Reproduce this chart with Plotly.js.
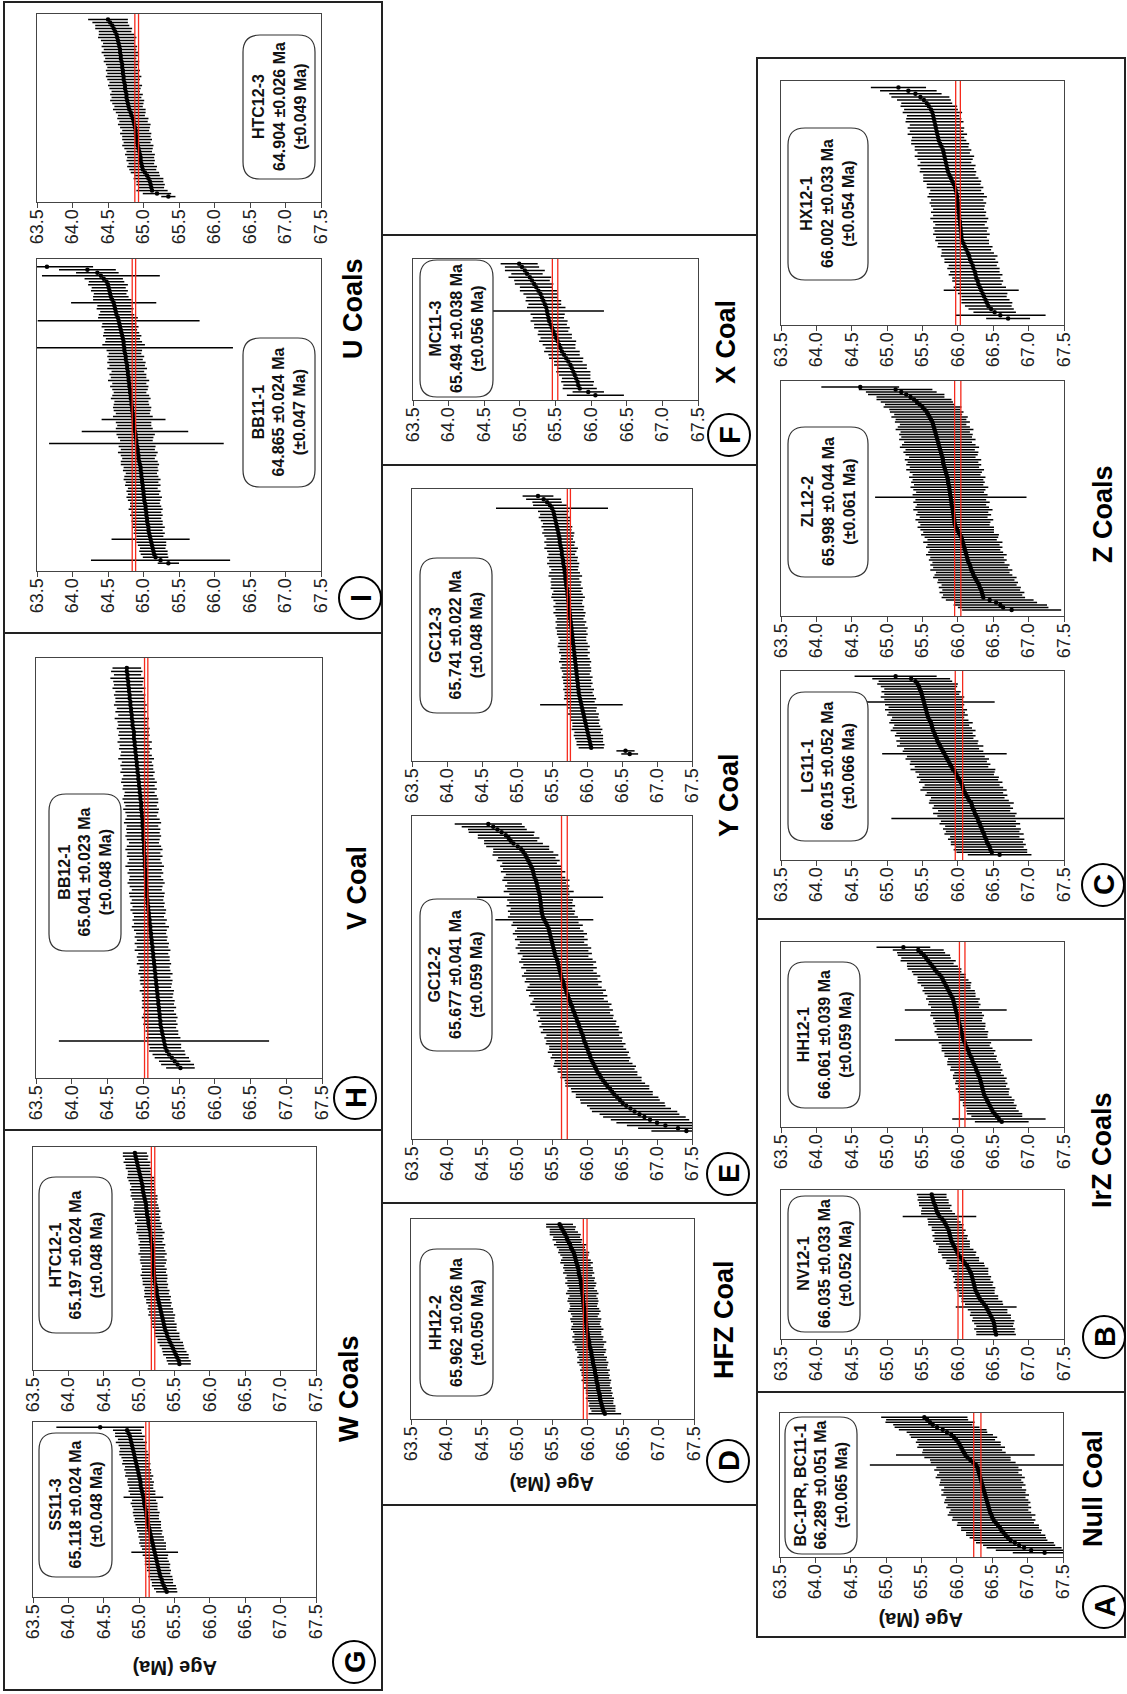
<!DOCTYPE html>
<html>
<head>
<meta charset="utf-8">
<script src="https://cdn.plot.ly/plotly-3.0.1.min.js"></script>
<style>
html,body{margin:0;padding:0;background:#fff;overflow:hidden;}
#chart{width:1127px;height:1694px;}
</style>
</head>
<body>
<div id="chart"></div>
<script>
// ---------------- DATA ----------------
const ageTicks = [63.5, 64.0, 64.5, 65.0, 65.5, 66.0, 66.5, 67.0, 67.5];
const ageTickText = ['63.5','64.0','64.5','65.0','65.5','66.0','66.5','67.0','67.5'];

const sampleNames = ['HTC12-3','BB11-1','BB12-1','HTC12-1','SS11-3','MC11-3','GC12-3','GC12-2','HH12-2','HX12-1','ZL12-2','LG11-1','HH12-1','NV12-1','BC-1PR, BC11-1'];
const weightedMeans = [64.904, 64.865, 65.041, 65.197, 65.118, 65.494, 65.741, 65.677, 65.962, 66.002, 65.998, 66.015, 66.061, 66.035, 66.289];
const meanErrors = [0.026, 0.024, 0.023, 0.024, 0.024, 0.038, 0.022, 0.041, 0.026, 0.033, 0.044, 0.052, 0.039, 0.033, 0.051];
const totalErrors = [0.049, 0.047, 0.048, 0.048, 0.048, 0.056, 0.048, 0.059, 0.050, 0.054, 0.061, 0.066, 0.059, 0.052, 0.065];

const coalUnits = ['U Coals','V Coal','W Coals','X Coal','Y Coal','HFZ Coal','Z Coals','IrZ Coals','Null Coal'];
const panelLetters = ['I','H','G','F','E','D','C','B','A'];
const axisTitle = 'Age (Ma)';

const agesHTC12_3 = [64.50,64.53,64.56,64.58,64.60,64.62,64.63,64.64,64.65,64.66,
64.67,64.67,64.68,64.68,64.69,64.70,64.70,64.71,64.71,64.72,
64.72,64.73,64.74,64.74,64.75,64.76,64.76,64.77,64.78,64.79,
64.80,64.82,64.83,64.85,64.86,64.87,64.88,64.89,64.89,64.90,
64.91,64.91,64.92,64.93,64.94,64.95,64.96,64.96,64.97,64.98,
64.99,65.02,65.05,65.07,65.09,65.10,65.11,65.12,65.19,65.35];
const errsHTC12_3 = [0.28,0.25,0.24,0.26,0.23,0.25,0.27,0.24,0.22,0.25,
0.23,0.26,0.24,0.22,0.25,0.23,0.21,0.24,0.22,0.25,
0.23,0.21,0.24,0.22,0.20,0.23,0.21,0.24,0.22,0.20,
0.23,0.21,0.19,0.22,0.20,0.23,0.21,0.19,0.22,0.20,
0.21,0.19,0.22,0.20,0.18,0.21,0.19,0.20,0.18,0.21,
0.19,0.20,0.18,0.21,0.19,0.20,0.18,0.22,0.20,0.10];

const agesBB11_1 = [63.64,64.21,64.35,64.40,64.44,64.48,64.50,64.51,64.52,64.53,
64.54,64.56,64.58,64.59,64.60,64.61,64.62,64.64,64.65,64.66,
64.67,64.68,64.69,64.70,64.71,64.72,64.72,64.73,64.73,64.74,
64.75,64.75,64.76,64.77,64.77,64.78,64.78,64.79,64.79,64.80,
64.80,64.81,64.81,64.82,64.82,64.83,64.83,64.84,64.84,64.85,
64.85,64.86,64.86,64.87,64.87,64.88,64.89,64.89,64.90,64.90,
64.91,64.92,64.92,64.93,64.93,64.94,64.95,64.96,64.96,64.97,
64.97,64.98,64.98,64.99,64.99,65.00,65.00,65.01,65.01,65.02,
65.03,65.03,65.04,65.04,65.05,65.05,65.06,65.07,65.07,65.08,
65.09,65.10,65.11,65.12,65.13,65.14,65.15,65.17,65.24,65.35];
const errsBB11_1 = [0.65,0.40,0.30,0.83,0.27,0.25,0.28,0.24,0.26,0.23,
0.25,0.27,0.60,0.24,0.26,0.22,0.25,0.28,1.14,0.24,
0.26,0.23,0.25,0.27,0.24,0.26,0.30,1.53,0.25,0.23,
0.26,0.24,0.27,0.25,0.28,0.23,0.26,0.25,0.29,0.24,
0.27,0.25,0.23,0.26,0.28,0.24,0.25,0.27,0.26,0.24,
0.28,0.45,0.25,0.24,0.26,0.75,0.27,0.25,0.23,1.23,
0.26,0.24,0.28,0.25,0.23,0.26,0.27,0.24,0.25,0.22,
0.24,0.26,0.23,0.25,0.21,0.24,0.22,0.25,0.23,0.21,
0.22,0.24,0.21,0.23,0.20,0.22,0.21,0.23,0.20,0.22,
0.19,0.55,0.21,0.20,0.18,0.20,0.19,0.18,0.98,0.15];

const agesBB12_1 = [64.77,64.77,64.78,64.78,64.79,64.79,64.80,64.80,64.81,64.81,
64.82,64.82,64.83,64.83,64.84,64.84,64.85,64.85,64.86,64.87,
64.87,64.87,64.88,64.88,64.89,64.89,64.90,64.90,64.91,64.91,
64.92,64.92,64.93,64.93,64.94,64.94,64.95,64.95,64.96,64.96,
64.97,64.97,64.97,64.98,64.98,64.99,64.99,64.99,65.00,65.00,
65.00,65.00,65.01,65.01,65.01,65.01,65.02,65.02,65.02,65.02,
65.03,65.03,65.03,65.04,65.04,65.04,65.05,65.05,65.05,65.06,
65.06,65.07,65.07,65.08,65.08,65.09,65.09,65.10,65.10,65.11,
65.11,65.12,65.12,65.13,65.13,65.14,65.14,65.15,65.15,65.16,
65.16,65.17,65.17,65.18,65.18,65.19,65.19,65.20,65.20,65.21,
65.21,65.22,65.22,65.23,65.23,65.24,65.24,65.25,65.26,65.27,
65.28,65.29,65.30,65.31,65.33,65.36,65.40,65.44,65.48,65.52];
const errsBB12_1 = [0.20,0.22,0.19,0.24,0.21,0.20,0.23,0.19,0.22,0.20,
0.21,0.23,0.20,0.22,0.19,0.24,0.21,0.20,0.23,0.21,
0.22,0.20,0.24,0.21,0.23,0.20,0.22,0.25,0.21,0.23,
0.22,0.24,0.21,0.23,0.25,0.22,0.24,0.21,0.23,0.25,
0.24,0.22,0.25,0.23,0.21,0.24,0.26,0.22,0.24,0.23,
0.25,0.23,0.21,0.24,0.26,0.23,0.25,0.22,0.24,0.27,
0.23,0.25,0.22,0.24,0.26,0.23,0.21,0.25,0.24,0.22,
0.24,0.22,0.25,0.23,0.21,0.24,0.22,0.26,0.23,0.21,
0.23,0.21,0.24,0.22,0.25,0.21,0.23,0.22,0.24,0.21,
0.22,0.24,0.21,0.23,0.22,0.20,0.24,0.22,0.21,0.23,
0.22,0.24,0.21,0.23,0.25,0.22,0.24,0.21,0.23,0.22,
0.24,1.47,0.23,0.22,0.25,0.23,0.24,0.22,0.23,0.20];

const agesHTC12_1 = [64.94,64.95,64.96,64.97,64.98,64.99,65.00,65.01,65.02,65.03,
65.04,65.05,65.05,65.06,65.07,65.08,65.09,65.10,65.10,65.11,
65.11,65.12,65.13,65.13,65.14,65.15,65.16,65.16,65.17,65.17,
65.18,65.18,65.19,65.19,65.19,65.20,65.20,65.20,65.21,65.21,
65.21,65.22,65.22,65.23,65.24,65.25,65.25,65.26,65.27,65.28,
65.29,65.30,65.31,65.32,65.33,65.34,65.35,65.36,65.37,65.39,
65.40,65.42,65.44,65.46,65.48,65.50,65.52,65.54,65.56,65.57];
const errsHTC12_1 = [0.17,0.18,0.16,0.19,0.17,0.18,0.16,0.17,0.19,0.18,
0.17,0.16,0.18,0.17,0.19,0.18,0.16,0.17,0.18,0.19,
0.17,0.18,0.16,0.19,0.17,0.18,0.20,0.17,0.18,0.16,
0.19,0.17,0.18,0.20,0.17,0.19,0.18,0.16,0.18,0.17,
0.19,0.18,0.17,0.18,0.16,0.18,0.17,0.19,0.17,0.18,
0.16,0.18,0.17,0.19,0.17,0.16,0.18,0.17,0.16,0.18,
0.17,0.16,0.18,0.17,0.16,0.17,0.18,0.16,0.17,0.16];

const agesSS11_3 = [64.45,64.83,64.85,64.87,64.88,64.89,64.90,64.91,64.92,64.93,64.94,
64.95,64.96,64.97,64.98,64.99,65.00,65.01,65.02,65.02,65.03,65.04,
65.05,65.06,65.07,65.07,65.08,65.09,65.10,65.10,65.11,65.12,65.13,
65.14,65.15,65.16,65.17,65.18,65.19,65.20,65.21,65.22,65.23,65.24,
65.25,65.26,65.27,65.28,65.29,65.30,65.32,65.33,65.35,65.37,65.39];
const errsSS11_3 = [0.62,0.20,0.19,0.21,0.18,0.22,0.19,0.18,0.20,0.21,
0.19,0.18,0.20,0.17,0.19,0.18,0.20,0.17,0.19,0.18,
0.17,0.19,0.18,0.28,0.17,0.19,0.18,0.17,0.19,0.18,
0.17,0.19,0.18,0.17,0.18,0.16,0.18,0.17,0.19,0.18,
0.17,0.33,0.18,0.16,0.17,0.18,0.16,0.17,0.15,0.17,
0.16,0.15,0.17,0.16,0.15];

const agesMC11_3 = [64.99,65.03,65.07,65.10,65.14,65.17,65.20,65.23,65.26,65.29,
65.31,65.33,65.35,65.37,65.38,65.39,65.40,65.41,65.43,65.45,
65.47,65.49,65.51,65.53,65.55,65.57,65.59,65.62,65.65,65.68,
65.71,65.73,65.75,65.77,65.79,65.81,65.82,65.84,65.96,66.06];
const errsMC11_3 = [0.26,0.24,0.28,0.22,0.30,0.25,0.27,0.23,0.26,0.24,
0.22,0.25,0.23,0.27,0.80,0.24,0.22,0.26,0.23,0.25,
0.21,0.24,0.22,0.26,0.23,0.21,0.25,0.22,0.24,0.20,
0.23,0.21,0.24,0.22,0.20,0.23,0.21,0.24,0.22,0.40];

const agesGC12_3 = [65.30,65.38,65.43,65.47,65.50,65.52,65.53,65.54,65.55,65.56,
65.57,65.58,65.59,65.60,65.61,65.61,65.62,65.63,65.64,65.64,
65.65,65.66,65.66,65.67,65.68,65.68,65.69,65.69,65.70,65.70,
65.71,65.72,65.72,65.73,65.73,65.74,65.74,65.75,65.75,65.76,
65.76,65.77,65.77,65.78,65.78,65.79,65.79,65.80,65.80,65.81,
65.81,65.82,65.82,65.83,65.83,65.84,65.84,65.85,65.85,65.86,
65.86,65.87,65.87,65.88,65.88,65.89,65.90,65.91,65.92,65.93,
65.94,65.95,65.96,65.97,65.98,65.99,66.00,66.01,66.02,66.03,
66.04,66.05,66.06,66.55,66.61];
const errsGC12_3 = [0.22,0.25,0.21,0.24,0.80,0.22,0.20,0.23,0.21,0.19,
0.22,0.20,0.23,0.21,0.19,0.22,0.20,0.24,0.21,0.19,
0.22,0.20,0.23,0.21,0.19,0.22,0.24,0.20,0.22,0.21,
0.23,0.20,0.22,0.24,0.21,0.19,0.22,0.20,0.23,0.21,
0.19,0.22,0.20,0.23,0.21,0.22,0.20,0.19,0.21,0.23,
0.20,0.22,0.19,0.21,0.23,0.20,0.22,0.21,0.19,0.22,
0.20,0.21,0.19,0.22,0.20,0.21,0.23,0.20,0.59,0.21,
0.19,0.22,0.20,0.21,0.19,0.20,0.22,0.19,0.21,0.20,
0.19,0.20,0.18,0.13,0.12];

const agesGC12_2 = [64.59,64.66,64.72,64.78,64.84,64.88,64.91,64.95,65.01,65.06,
65.09,65.12,65.14,65.16,65.18,65.20,65.22,65.23,65.24,65.25,
65.27,65.28,65.29,65.30,65.31,65.32,65.33,65.33,65.34,65.34,
65.35,65.35,65.36,65.37,65.39,65.41,65.43,65.45,65.46,65.47,
65.48,65.49,65.50,65.51,65.52,65.53,65.54,65.55,65.57,65.58,
65.59,65.60,65.61,65.62,65.63,65.64,65.66,65.67,65.68,65.70,
65.71,65.73,65.74,65.76,65.77,65.79,65.80,65.82,65.83,65.85,
65.86,65.88,65.89,65.91,65.92,65.94,65.95,65.96,65.98,65.99,
66.01,66.02,66.04,66.05,66.07,66.09,66.11,66.13,66.15,66.18,
66.20,66.23,66.26,66.29,66.33,66.36,66.39,66.43,66.47,66.51,
66.56,66.62,66.68,66.75,66.82,66.90,67.00,67.12,67.30,67.42];
const errsGC12_2 = [0.48,0.45,0.42,0.47,0.40,0.44,0.38,0.42,0.45,0.40,
0.43,0.47,0.41,0.45,0.39,0.44,0.42,0.46,0.40,0.44,
0.48,0.42,0.46,0.44,0.50,0.43,0.90,0.47,0.45,0.49,
0.44,0.48,0.46,0.50,0.70,0.47,0.51,0.45,0.49,0.53,
0.48,0.52,0.46,0.50,0.54,0.49,0.53,0.47,0.51,0.55,
0.50,0.54,0.48,0.52,0.56,0.51,0.55,0.49,0.53,0.57,
0.52,0.56,0.50,0.54,0.58,0.53,0.57,0.51,0.55,0.52,
0.56,0.53,0.57,0.54,0.58,0.52,0.56,0.54,0.57,0.53,
0.55,0.58,0.54,0.57,0.53,0.56,0.59,0.55,0.57,0.54,
0.58,0.55,0.57,0.60,0.56,0.58,0.55,0.59,0.57,0.60,
0.56,0.58,0.61,0.57,0.59,0.56,0.58,0.55,0.57,0.50];

const agesHH12_2 = [65.60,65.62,65.64,65.66,65.68,65.70,65.71,65.73,65.75,65.76,
65.78,65.80,65.81,65.82,65.83,65.84,65.85,65.86,65.87,65.87,
65.88,65.89,65.90,65.90,65.91,65.91,65.92,65.92,65.93,65.93,
65.93,65.94,65.94,65.95,65.95,65.96,65.96,65.97,65.97,65.98,
65.98,65.99,65.99,66.00,66.00,66.01,66.02,66.02,66.03,66.04,
66.05,66.05,66.06,66.07,66.07,66.08,66.09,66.10,66.10,66.11,
66.12,66.12,66.13,66.14,66.14,66.15,66.16,66.17,66.17,66.18,
66.19,66.20,66.21,66.22,66.24];
const errsHH12_2 = [0.19,0.21,0.18,0.20,0.22,0.19,0.21,0.18,0.23,0.20,
0.19,0.22,0.20,0.18,0.21,0.23,0.19,0.21,0.20,0.22,
0.18,0.21,0.19,0.22,0.20,0.18,0.21,0.23,0.19,0.21,
0.22,0.20,0.19,0.21,0.23,0.20,0.18,0.22,0.21,0.19,
0.21,0.23,0.20,0.19,0.22,0.20,0.24,0.21,0.19,0.22,
0.20,0.18,0.21,0.19,0.22,0.20,0.18,0.21,0.19,0.20,
0.18,0.21,0.19,0.17,0.20,0.18,0.19,0.17,0.20,0.18,
0.17,0.19,0.18,0.17,0.23];

const agesHX12_1 = [65.16,65.30,65.40,65.47,65.52,65.56,65.59,65.62,65.64,65.65,
65.66,65.67,65.68,65.69,65.70,65.71,65.72,65.73,65.75,65.77,
65.79,65.80,65.81,65.82,65.83,65.84,65.85,65.86,65.88,65.90,
65.92,65.94,65.96,65.97,65.98,65.99,65.99,66.00,66.00,66.01,
66.01,66.02,66.02,66.03,66.03,66.04,66.04,66.05,66.05,66.06,
66.08,66.10,66.12,66.14,66.16,66.17,66.19,66.21,66.22,66.24,
66.25,66.26,66.28,66.29,66.31,66.33,66.35,66.37,66.39,66.41,
66.43,66.47,66.52,66.60,66.71];
const errsHX12_1 = [0.39,0.40,0.37,0.41,0.38,0.36,0.40,0.38,0.42,0.37,
0.39,0.41,0.36,0.40,0.38,0.42,0.37,0.39,0.41,0.38,
0.40,0.37,0.42,0.39,0.36,0.41,0.38,0.40,0.37,0.39,
0.41,0.38,0.40,0.36,0.39,0.42,0.37,0.40,0.38,0.36,
0.39,0.37,0.41,0.38,0.35,0.39,0.37,0.40,0.36,0.38,
0.36,0.39,0.35,0.37,0.40,0.36,0.38,0.34,0.37,0.35,
0.38,0.34,0.36,0.33,0.37,0.53,0.35,0.32,0.34,0.36,
0.33,0.32,0.30,0.64,0.31];

const agesZL12_2 = [64.62,65.12,65.20,65.27,65.33,65.38,65.42,65.46,65.50,65.53,
65.56,65.58,65.60,65.62,65.64,65.65,65.66,65.67,65.68,65.69,
65.70,65.71,65.72,65.73,65.74,65.75,65.76,65.77,65.78,65.79,
65.79,65.80,65.81,65.82,65.83,65.84,65.85,65.86,65.86,65.87,
65.88,65.88,65.89,65.89,65.90,65.90,65.91,65.91,65.92,65.93,
65.93,65.94,65.94,65.95,65.95,65.96,65.97,65.99,66.01,66.03,
66.05,66.06,66.07,66.08,66.09,66.10,66.11,66.12,66.13,66.14,
66.15,66.17,66.18,66.19,66.21,66.22,66.24,66.26,66.28,66.30,
66.31,66.33,66.34,66.35,66.36,66.45,66.54,66.60,66.64,66.76];
const errsZL12_2 = [0.55,0.52,0.50,0.54,0.48,0.53,0.51,0.49,0.55,0.50,
0.52,0.48,0.54,0.50,0.53,0.47,0.51,0.55,0.49,0.52,
0.50,0.54,0.48,0.52,0.56,0.49,0.53,0.51,0.47,0.54,
0.50,0.53,0.49,0.55,0.51,0.48,0.54,0.50,0.52,0.49,
0.55,0.51,0.48,0.53,1.07,0.50,0.54,0.49,0.52,0.56,
0.50,0.53,0.48,0.55,0.51,0.49,0.54,0.52,0.50,0.55,
0.52,0.49,0.56,0.51,0.54,0.50,0.53,0.57,0.52,0.55,
0.51,0.56,0.53,0.58,0.52,0.55,0.59,0.54,0.57,0.53,
0.58,0.55,0.60,0.56,0.59,0.62,0.58,0.66,0.64,0.70];

const agesLG11_1 = [65.12,65.34,65.40,65.43,65.45,65.46,65.48,65.49,65.50,65.51,
65.52,65.53,65.54,65.55,65.56,65.57,65.58,65.60,65.62,65.63,
65.64,65.65,65.67,65.68,65.70,65.71,65.73,65.75,65.77,65.79,
65.81,65.83,65.85,65.87,65.89,65.91,65.93,65.96,65.98,66.00,
66.02,66.04,66.06,66.07,66.08,66.10,66.12,66.14,66.16,66.19,
66.20,66.21,66.23,66.24,66.26,66.28,66.29,66.31,66.32,66.34,
66.35,66.37,66.38,66.40,66.41,66.43,66.45,66.46,66.48,66.59];
const errsLG11_1 = [0.58,0.55,0.52,0.57,0.54,0.50,0.56,0.53,0.59,0.55,
1.00,0.56,0.52,0.58,0.54,0.57,0.51,0.55,0.59,0.53,
0.56,0.60,0.54,0.57,0.52,0.58,0.55,0.61,0.53,0.57,
0.88,0.55,0.59,0.54,0.57,0.52,0.60,0.56,0.53,0.58,
0.55,0.59,0.53,0.57,0.61,0.54,0.58,0.52,0.56,0.60,
0.54,0.57,0.51,0.59,0.55,1.22,0.53,0.57,0.50,0.55,
0.52,0.56,0.49,0.54,0.51,0.53,0.48,0.52,0.50,0.45];

const agesHH12_1 = [65.23,65.44,65.48,65.52,65.55,65.58,65.61,65.64,65.67,65.70,
65.74,65.77,65.79,65.81,65.83,65.85,65.87,65.89,65.91,65.93,
65.94,65.95,65.96,65.97,65.98,65.99,66.00,66.01,66.02,66.03,
66.04,66.05,66.06,66.07,66.08,66.10,66.11,66.13,66.15,66.16,
66.18,66.20,66.21,66.23,66.25,66.26,66.28,66.29,66.31,66.32,
66.33,66.34,66.35,66.36,66.37,66.39,66.41,66.43,66.45,66.47,
66.49,66.52,66.55,66.58,66.62];
const errsHH12_1 = [0.38,0.36,0.34,0.37,0.35,0.39,0.33,0.36,0.38,0.35,
0.37,0.34,0.36,0.38,0.35,0.33,0.37,0.36,0.34,0.38,
0.35,0.37,0.34,0.72,0.36,0.38,0.35,0.33,0.37,0.36,
0.34,0.38,0.36,0.35,0.97,0.37,0.34,0.36,0.38,0.35,
0.37,0.34,0.36,0.38,0.35,0.37,0.33,0.36,0.38,0.35,
0.37,0.34,0.38,0.36,0.35,0.37,0.39,0.36,0.38,0.35,
0.37,0.39,0.36,0.66,0.38];

const agesNV12_1 = [65.63,65.64,65.65,65.66,65.68,65.69,65.70,65.72,65.74,65.78,
65.81,65.83,65.85,65.87,65.88,65.89,65.90,65.91,65.93,65.95,
65.97,65.99,66.01,66.04,66.07,66.10,66.13,66.15,66.17,66.19,
66.20,66.21,66.22,66.23,66.24,66.25,66.27,66.29,66.31,66.34,
66.37,66.40,66.42,66.44,66.46,66.48,66.50,66.51,66.52,66.52,66.53,66.54];
const errsNV12_1 = [0.21,0.20,0.22,0.21,0.23,0.20,0.22,0.24,0.52,0.21,
0.23,0.25,0.22,0.24,0.21,0.25,0.23,0.26,0.24,0.22,
0.25,0.27,0.24,0.26,0.23,0.27,0.25,0.28,0.26,0.24,
0.27,0.25,0.28,0.26,0.29,0.27,0.25,0.28,0.26,0.29,
0.27,0.43,0.28,0.26,0.29,0.27,0.30,0.28,0.26,0.29,0.27,0.28];

const agesBC = [65.54,65.58,65.62,65.66,65.72,65.80,65.86,65.92,65.96,65.99,
66.02,66.04,66.06,66.08,66.10,66.12,66.15,66.19,66.23,66.27,
66.29,66.30,66.31,66.32,66.33,66.34,66.35,66.36,66.37,66.38,
66.39,66.40,66.41,66.42,66.43,66.44,66.45,66.46,66.47,66.49,
66.50,66.52,66.55,66.58,66.61,66.63,66.66,66.69,66.72,66.76,
66.82,66.88,66.95,67.05,67.24];
const errsBC = [0.61,0.58,0.63,0.56,0.60,0.62,0.57,0.59,0.61,0.55,
0.60,0.58,0.62,0.56,0.59,0.98,0.61,0.57,0.60,1.50,
0.58,0.62,0.56,0.60,0.63,0.57,0.59,0.61,0.55,0.60,
0.58,0.62,0.56,0.59,0.61,0.57,0.60,0.55,0.58,0.62,
0.56,0.59,0.54,0.58,0.55,0.57,0.53,0.56,0.54,0.52,
0.55,0.51,0.53,0.50,0.45];

const panelAges = [agesHTC12_3, agesBB11_1, agesBB12_1, agesHTC12_1, agesSS11_3, agesMC11_3, agesGC12_3, agesGC12_2, agesHH12_2, agesHX12_1, agesZL12_2, agesLG11_1, agesHH12_1, agesNV12_1, agesBC];
const panelErrs = [errsHTC12_3, errsBB11_1, errsBB12_1, errsHTC12_1, errsSS11_3, errsMC11_3, errsGC12_3, errsGC12_2, errsHH12_2, errsHX12_1, errsZL12_2, errsLG11_1, errsHH12_1, errsNV12_1, errsBC];

// ---------------- LAYOUT (pixel positions, page 1127 x 1694) ----------------
const W = 1127, H = 1694;
const FONT = 'Liberation Sans, Arial, sans-serif';
const px = x => x / W;
const py = y => 1 - y / H;

const plotBoxes = [
  [37,321,14,202],[37,321,259,571],[36,322,658,1078],[33,316,1147,1370],[33,316,1422,1597],
  [413,698,259,400],[412,692,489,761],[412,692,816,1139],[411,694,1219,1419],
  [781,1064,81,325],[781,1064,381,616],[781,1064,671,860],[781,1064,942,1127],[781,1064,1190,1339],[780,1063,1413,1557]
];
const labelBoxes = [
  [243,315,35,179],[243,315,338,487],[49,121,794,951],[39,112,1177,1333],[39,112,1433,1577],
  [420,493,260,397],[420,492,558,713],[420,492,899,1051],[420,493,1249,1396],
  [788,868,128,280],[788,868,427,577],[788,868,692,841],[788,860,962,1108],[788,860,1196,1332],[785,857,1417,1554]
];
const framesPx = [
  [4,382,2,633],[4,382,633,1130],[4,382,1130,1690],
  [382,757,235,465],[382,757,465,1203],[382,757,1203,1505],
  [757,1125,58,919],[757,1125,919,1392],[757,1125,1392,1637]
];
const titlePos = [[353,309],[357,888],[349,1389],[726,342],[729,795],[724,1320],[1103,514],[1102,1150],[1093,1489]];
const letterPos = [[360,598],[355,1098],[354,1662],[729,435],[728,1174],[728,1461],[1103,885],[1104,1337],[1104,1607]];
const ageTitlePos = [[175,1668],[552,1484],[921,1620]];

function rr(b, r) {
  const [x0,x1,y0,y1] = b;
  const P = (x,y) => px(x).toFixed(5) + ',' + py(y).toFixed(5);
  return 'M' + P(x0+r,y0) + ' L' + P(x1-r,y0) + ' Q' + P(x1,y0) + ' ' + P(x1,y0+r) +
         ' L' + P(x1,y1-r) + ' Q' + P(x1,y1) + ' ' + P(x1-r,y1) +
         ' L' + P(x0+r,y1) + ' Q' + P(x0,y1) + ' ' + P(x0,y1-r) +
         ' L' + P(x0,y0+r) + ' Q' + P(x0,y0) + ' ' + P(x0+r,y0) + ' Z';
}

const traces = [];
const layout = {
  width: W, height: H,
  margin: {l:0, r:0, t:0, b:0, pad:0},
  paper_bgcolor: '#ffffff', plot_bgcolor: '#ffffff',
  showlegend: false,
  shapes: [], annotations: [],
  font: {family: FONT, color: '#111'}
};

panelAges.forEach((ages, k) => {
  const n = k + 1;
  const xa = n === 1 ? 'x' : 'x' + n;
  const ya = n === 1 ? 'y' : 'y' + n;
  const xk = n === 1 ? 'xaxis' : 'xaxis' + n;
  const yk = n === 1 ? 'yaxis' : 'yaxis' + n;
  const b = plotBoxes[k];
  const N = ages.length;
  const pad = 0.02 * N + 0.6;

  traces.push({
    type: 'scatter', mode: 'markers',
    x: ages, y: ages.map((_, i) => i),
    xaxis: xa, yaxis: ya,
    marker: {color: '#000', size: 4.5},
    error_x: {type: 'data', array: panelErrs[k], visible: true, color: '#000', thickness: 1.5, width: 0},
    hoverinfo: 'skip'
  });

  layout[xk] = {
    domain: [px(b[0]), px(b[1])], anchor: ya,
    range: [63.5, 67.5], tickmode: 'array', tickvals: ageTicks, ticktext: ageTickText,
    tickangle: -90, ticks: 'outside', ticklen: 5, tickwidth: 1, tickcolor: '#444',
    ticklabelstandoff: -6,
    tickfont: {family: FONT, size: 18, color: '#222'},
    showline: true, linecolor: '#444', linewidth: 1, mirror: true,
    showgrid: false, zeroline: false, fixedrange: true
  };
  layout[yk] = {
    domain: [py(b[3]), py(b[2])], anchor: xa,
    range: [N - 1 + pad, -pad],
    showticklabels: false, ticks: '',
    showline: true, linecolor: '#444', linewidth: 1, mirror: true,
    showgrid: false, zeroline: false, fixedrange: true
  };

  // weighted mean +/- error lines
  [weightedMeans[k] - meanErrors[k], weightedMeans[k] + meanErrors[k]].forEach(v => {
    layout.shapes.push({
      type: 'line', xref: xa, yref: ya + ' domain', x0: v, x1: v, y0: 0, y1: 1,
      line: {color: '#f52a1c', width: 1.3}, layer: 'above'
    });
  });

  // rounded result box
  layout.shapes.push({
    type: 'path', xref: 'paper', yref: 'paper', path: rr(labelBoxes[k], 17),
    fillcolor: '#ffffff', line: {color: '#333', width: 1.2}, layer: 'above'
  });
  const lb = labelBoxes[k];
  layout.annotations.push({
    xref: 'paper', yref: 'paper', x: px((lb[0]+lb[1])/2), y: py((lb[2]+lb[3])/2),
    xanchor: 'center', yanchor: 'middle', showarrow: false, textangle: -90,
    font: {family: FONT, size: 16, color: '#111'},
    text: '<b>' + sampleNames[k] + '</b><br><b>' + weightedMeans[k].toFixed(3) + ' ±' + meanErrors[k].toFixed(3) +
          ' Ma</b><br><b>(±' + totalErrors[k].toFixed(3) + ' Ma)</b>'
  });
});

// outer frames
framesPx.forEach(f => {
  layout.shapes.push({
    type: 'rect', xref: 'paper', yref: 'paper',
    x0: px(f[0]), x1: px(f[1]), y0: py(f[3]), y1: py(f[2]),
    line: {color: '#222', width: 2}, fillcolor: 'rgba(0,0,0,0)', layer: 'above'
  });
});

// coal unit titles
coalUnits.forEach((t, i) => {
  layout.annotations.push({
    xref: 'paper', yref: 'paper', x: px(titlePos[i][0]), y: py(titlePos[i][1]),
    xanchor: 'center', yanchor: 'middle', showarrow: false, textangle: -90,
    font: {family: FONT, size: 27, color: '#000'}, text: '<b>' + t + '</b>'
  });
});

// panel letters in circles
const R = 21;
panelLetters.forEach((t, i) => {
  const [cx, cy] = letterPos[i];
  layout.shapes.push({
    type: 'circle', xref: 'paper', yref: 'paper',
    x0: px(cx - R), x1: px(cx + R), y0: py(cy + R), y1: py(cy - R),
    line: {color: '#000', width: 2}, fillcolor: '#ffffff', layer: 'above'
  });
  layout.annotations.push({
    xref: 'paper', yref: 'paper', x: px(cx + 1), y: py(cy),
    xanchor: 'center', yanchor: 'middle', showarrow: false, textangle: -90,
    font: {family: FONT, size: 29, color: '#000'}, text: '<b>' + t + '</b>'
  });
});

// Age (Ma) axis titles (upside down)
ageTitlePos.forEach(p => {
  layout.annotations.push({
    xref: 'paper', yref: 'paper', x: px(p[0]), y: py(p[1]),
    xanchor: 'center', yanchor: 'middle', showarrow: false, textangle: 180,
    font: {family: FONT, size: 20, color: '#111'}, text: '<b>' + axisTitle + '</b>'
  });
});

Plotly.newPlot('chart', traces, layout, {displayModeBar: false, staticPlot: true});
</script>
</body>
</html>
